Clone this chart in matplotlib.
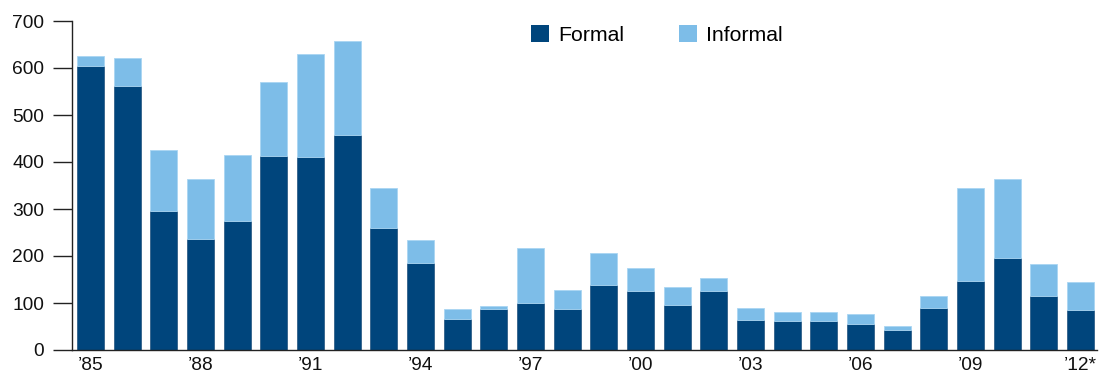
import matplotlib
matplotlib.use("Agg")
import matplotlib.pyplot as plt
from matplotlib.patches import Patch
import numpy as np

plt.rcParams['font.family'] = ['Liberation Sans', 'DejaVu Sans']

years = list(range(1985, 2013))
formal = [605, 561, 295, 237, 274, 413, 410, 458, 259, 185,
          67, 88, 100, 88, 138, 126, 96, 126, 63, 62,
          61, 55, 42, 90, 147, 195, 114, 86]
total = [625, 622, 426, 364, 414, 570, 630, 657, 345, 233,
         87, 94, 216, 127, 207, 174, 133, 153, 89, 81,
         80, 77, 52, 114, 345, 363, 183, 144]
informal = [t - f for t, f in zip(total, formal)]

tick_years = [1985, 1988, 1991, 1994, 1997, 2000, 2003, 2006, 2009, 2012]
tick_labels = ["\u201985", "\u201988", "\u201991", "\u201994", "\u201997",
               "\u201900", "\u201903", "\u201906", "\u201909", "\u201912*"]

dark = "#00457C"
light = "#7DBDE8"

fig = plt.figure(figsize=(11.02, 3.79), dpi=100)
W, H = 1102, 379
ax = fig.add_axes([72 / W, 29 / H, (1097 - 72) / W, (350 - 21) / H])

x = np.arange(len(years))
ax.bar(x, formal, width=0.74, color=dark, edgecolor="#0A3F6E", linewidth=0.4)
ax.bar(x, informal, bottom=formal, width=0.74, color=light,
       edgecolor="#A9D5F2", linewidth=0.6)

ax.set_xlim(-0.505, len(years) - 1 + 0.45)
ax.set_ylim(0, 700)
ax.set_yticks(range(0, 701, 100))
ax.tick_params(axis="y", length=13.5, width=1.0, pad=6.5, labelsize=13.8,
               color="#222222", labelcolor="#111111")
ax.set_xticks([years.index(y) for y in tick_years])
ax.set_xticklabels(tick_labels)
ax.tick_params(axis="x", length=0, pad=5, labelsize=13.8, labelcolor="#111111")

for side in ("top", "right"):
    ax.spines[side].set_visible(False)
ax.spines["left"].set_linewidth(1.0)
ax.spines["left"].set_color("#222222")
ax.spines["bottom"].set_linewidth(1.0)
ax.spines["bottom"].set_color("#222222")

handles = [Patch(facecolor=dark, edgecolor="none", label="Formal"),
           Patch(facecolor=light, edgecolor="none", label="Informal")]
fig.legend(handles=handles, loc="upper left",
           bbox_to_anchor=(531 / W, 1 - 25 / H), ncol=2, frameon=False,
           fontsize=15.3, handlelength=0.85, handleheight=0.85,
           handletextpad=0.42, columnspacing=2.6, borderpad=0,
           borderaxespad=0)

fig.savefig("out.png", dpi=100)
